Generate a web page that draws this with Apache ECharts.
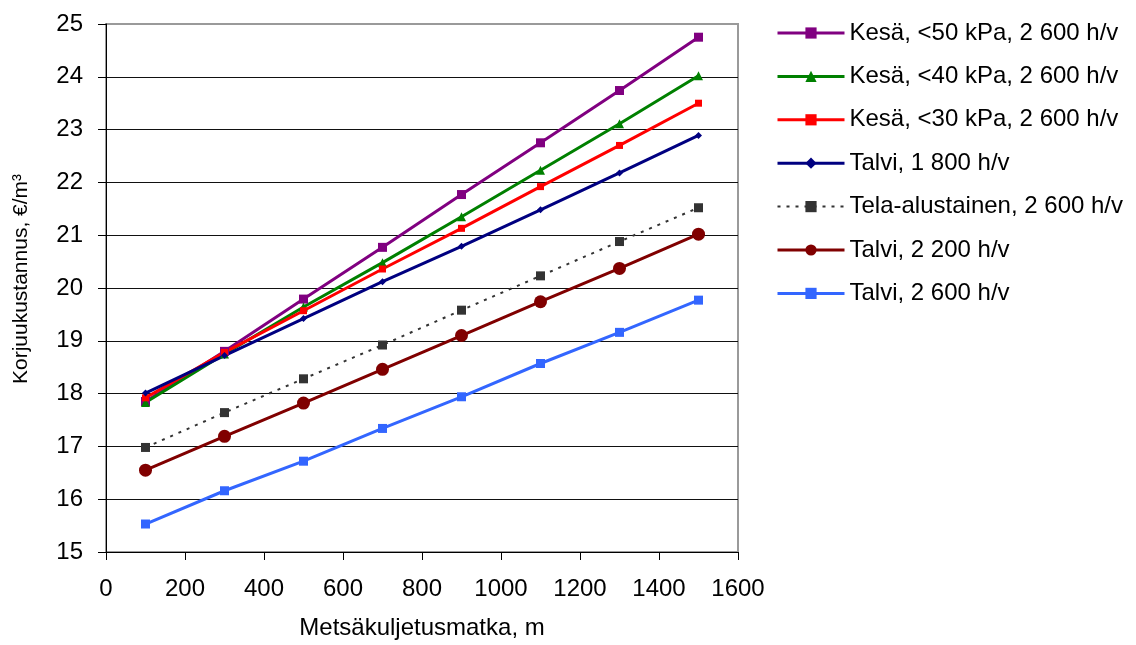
<!DOCTYPE html>
<html>
<head>
<meta charset="utf-8">
<script src="https://cdn.jsdelivr.net/npm/echarts@6/dist/echarts.min.js"></script>
<style>
  html, body { margin: 0; padding: 0; background: #fff; }
  #chart { width: 1136px; height: 645px; }
</style>
</head>
<body>
<div id="chart"></div>
<script>
// Forwarding distance (m)
const distances = [100, 300, 500, 700, 900, 1100, 1300, 1500];

// Harvesting cost (€/m³) per scenario
const kesa50 = [17.85, 18.80, 19.79, 20.77, 21.77, 22.75, 23.74, 24.75];
const kesa40 = [17.83, 18.75, 19.64, 20.48, 21.35, 22.23, 23.11, 24.02];
const kesa30 = [17.92, 18.78, 19.57, 20.36, 21.13, 21.92, 22.70, 23.50];
const talvi1800 = [18.01, 18.72, 19.42, 20.12, 20.79, 21.48, 22.18, 22.89];
const tela2600 = [16.98, 17.64, 18.28, 18.92, 19.58, 20.23, 20.88, 21.52];
const talvi2200 = [16.55, 17.19, 17.82, 18.46, 19.10, 19.74, 20.37, 21.02];
const talvi2600 = [15.53, 16.16, 16.72, 17.34, 17.94, 18.57, 19.16, 19.77];

const seriesNames = [
  'Kesä, <50 kPa, 2 600 h/v',
  'Kesä, <40 kPa, 2 600 h/v',
  'Kesä, <30 kPa, 2 600 h/v',
  'Talvi, 1 800 h/v',
  'Tela-alustainen, 2 600 h/v',
  'Talvi, 2 200 h/v',
  'Talvi, 2 600 h/v'
];

const FONT = '"Liberation Sans", Arial, sans-serif';

function pairs(values) {
  return distances.map((d, i) => [d, values[i]]);
}

function lineSeries(name, values, color, symbol, size, lineType, width) {
  return {
    name: name,
    type: 'line',
    data: pairs(values),
    symbol: symbol,
    symbolSize: size,
    showSymbol: true,
    animation: false,
    lineStyle: { color: color, width: width, type: lineType },
    itemStyle: { color: color, borderWidth: 0 }
  };
}

const series = [
  lineSeries(seriesNames[0], kesa50, '#800080', 'rect', 9, 'solid', 3),
  lineSeries(seriesNames[1], kesa40, '#008000', 'triangle', 9, 'solid', 3),
  lineSeries(seriesNames[2], kesa30, '#ff0000', 'rect', 7, 'solid', 3),
  lineSeries(seriesNames[3], talvi1800, '#000080', 'diamond', 7, 'solid', 3),
  lineSeries(seriesNames[4], tela2600, '#333333', 'rect', 9, [3, 6], 2),
  lineSeries(seriesNames[5], talvi2200, '#800000', 'circle', 13, 'solid', 3),
  lineSeries(seriesNames[6], talvi2600, '#3366ff', 'rect', 9, 'solid', 3)
];

// legend entries keep the same stroke width as their series
const legendData = series.map((s) => ({
  name: s.name,
  lineStyle: { width: s.lineStyle.width }
}));

const chart = echarts.init(document.getElementById('chart'), null, { renderer: 'canvas' });

chart.setOption({
  backgroundColor: '#ffffff',
  textStyle: { fontFamily: FONT },
  grid: {
    left: 106, right: 398, top: 24, bottom: 90,
    show: true, borderColor: '#9a9a9a', borderWidth: 2, backgroundColor: 'transparent'
  },
  legend: {
    orient: 'vertical',
    left: 771,
    top: 16,
    itemWidth: 67,
    itemHeight: 14,
    itemGap: 19.4,
    textStyle: { fontFamily: FONT, fontSize: 24, color: '#000' },
    data: legendData
  },
  xAxis: {
    type: 'value',
    min: 0, max: 1600, interval: 200,
    name: 'Metsäkuljetusmatka, m',
    nameLocation: 'middle',
    nameGap: 64,
    nameTextStyle: { fontFamily: FONT, fontSize: 24, color: '#000' },
    axisLine: { show: true, lineStyle: { color: '#000', width: 1 } },
    axisTick: { show: true, inside: false, length: 8, lineStyle: { color: '#000' } },
    axisLabel: {
      fontFamily: FONT, fontSize: 24, color: '#000', margin: 25,
      formatter: (v) => String(v)
    },
    splitLine: { show: false }
  },
  yAxis: {
    type: 'value',
    min: 15, max: 25, interval: 1,
    name: 'Korjuukustannus, €/m³',
    nameLocation: 'middle',
    nameGap: 74,
    nameTextStyle: { fontFamily: FONT, fontSize: 21, color: '#000', padding: [0, 0, 0, 18] },
    axisLine: { show: true, lineStyle: { color: '#000', width: 1 } },
    axisTick: { show: true, inside: false, length: 8, lineStyle: { color: '#000' } },
    axisLabel: { fontFamily: FONT, fontSize: 24, color: '#000', margin: 23 },
    splitLine: { show: true, showMaxLine: false, lineStyle: { color: '#111', width: 1 } }
  },
  series: series
});
</script>
</body>
</html>
